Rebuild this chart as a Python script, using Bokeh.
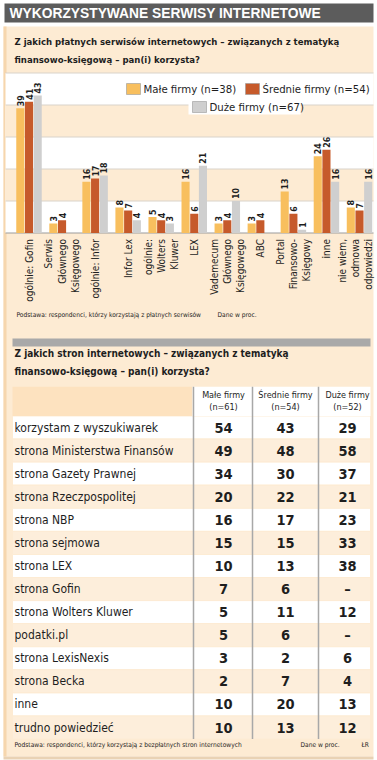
import math
from bokeh.plotting import figure
from bokeh.models import Range1d, ColumnDataSource
from bokeh.embed import file_html
from bokeh.resources import INLINE
from bokeh.core.properties import value

# ---------------- data ----------------
bar_categories = ["ogólnie: Gofin", "Serwis\nGłównego\nKsięgowego", "ogólnie: Infor", "Infor Lex",
                  "ogólnie:\nWolters\nKluwer", "LEX", "Vademecum\nGłównego\nKsięgowego", "ABC",
                  "Portal\nFinansowo-\nKsięgowy", "inne", "nie wiem,\nodmowa\nodpowiedzi"]
male_firmy = [39, 3, 16, 8, 5, 16, 3, 3, 13, 24, 8]
srednie_firmy = [41, 4, 17, 7, 4, 6, 4, 4, 6, 26, 7]
duze_firmy = [43, None, 18, 4, 3, 21, 10, None, 1, 16, 16]
bar_series = ["Małe firmy (n=38)", "Średnie firmy (n=54)", "Duże firmy (n=67)"]
bar_gridlines = [10, 20, 30, 40, 50]
bar_bands = [(10, 20), (30, 40)]

table_rows = ["korzystam z wyszukiwarek", "strona Ministerstwa Finansów", "strona Gazety Prawnej",
              "strona Rzeczpospolitej", "strona NBP", "strona sejmowa", "strona LEX", "strona Gofin",
              "strona Wolters Kluwer", "podatki.pl", "strona LexisNexis", "strona Becka", "inne",
              "trudno powiedzieć"]
table_columns = ["Małe firmy\n(n=61)", "Średnie firmy\n(n=54)", "Duże firmy\n(n=52)"]
table_male = [54, 49, 34, 20, 16, 15, 10, 7, 5, 5, 3, 2, 10, 10]
table_srednie = [43, 48, 30, 22, 17, 15, 13, 6, 11, 6, 2, 7, 20, 13]
table_duze = [29, 58, 37, 21, 23, 33, 38, None, 12, None, 6, 4, 13, 12]

title = "WYKORZYSTYWANE SERWISY INTERNETOWE"
question1 = "Z jakich płatnych serwisów internetowych – związanych z tematyką\nfinansowo-księgową – pan(i) korzysta?"
question2 = "Z jakich stron internetowych – związanych z tematyką\nfinansowo-księgową –  pan(i) korzysta?"
note1 = "Podstawa: respondenci, którzy korzystają z płatnych serwisów"
note2 = "Podstawa: respondenci, którzy korzystają z bezpłatnych stron internetowych"
unit_note = "Dane w proc."
author = "ŁR"

# ---------------- styles ----------------
W, H = 377, 760
COND = value("DejaVu Sans Condensed")
WIDE = value("Liberation Sans")
C_YEL, C_ORA, C_GRY = "#f8bf5e", "#c65a2b", "#cfcfcf"
SERIES_COLORS = [C_YEL, C_ORA, C_GRY]
PANEL = "#fdebd3"
TXT = "#1e1e1e"

p = figure(width=W, height=H, x_range=Range1d(0, W), y_range=Range1d(H, 0),
           x_axis_location=None, y_axis_location=None, output_backend="svg",
           toolbar_location=None, min_border=0)
p.grid.visible = False
p.outline_line_color = None
p.background_fill_color = "#ffffff"
p.border_fill_color = "#ffffff"

# scales for bar chart (group index, percent) and table (column, row)
BX0, BDX = 28.5, 33.05
BY0, BDY = 232.5, 3.2
TX0, TDX = 223.0, 62.0
TY0, TDY = 427.0, 23.08
p.extra_x_ranges["bx"] = Range1d(-BX0 / BDX, (W - BX0) / BDX)
p.extra_y_ranges["by"] = Range1d((BY0 - H) / BDY, BY0 / BDY)
p.extra_x_ranges["tx"] = Range1d(1 - TX0 / TDX, 1 + (W - TX0) / TDX)
p.extra_y_ranges["ty"] = Range1d((H - TY0) / TDY, -TY0 / TDY)

# ---------------- page decoration ----------------
p.quad(left=3, right=373, top=26, bottom=756, fill_color=PANEL, line_color=None)
p.quad(left=3, right=6, top=26, bottom=756, fill_color="#f6d6ad", line_color=None)
p.quad(left=3, right=373, top=756, bottom=759, fill_color="#e9d2b4", line_color=None)
p.quad(left=4, right=373, top=3, bottom=22, fill_color="#5c5c5c", line_color=None)
p.text(x=[9], y=[13], text=[title], text_font=WIDE, text_font_style="bold",
       text_font_size="13.8px", text_color="#ffffff", text_baseline="middle")

p.text(x=[14], y=[50], text=[question1], text_font=COND, text_font_style="bold",
       text_font_size="9.5px", text_color=TXT, text_baseline="middle", text_line_height=1.55)

# ---------------- bar chart ----------------
BR = dict(x_range_name="bx", y_range_name="by")
p.quad(left=5, right=373, bottom=0, top=max(bar_gridlines), fill_color="#ffffff", line_color=None,
       y_range_name="by")
for lo, hi in bar_bands:
    p.quad(left=5, right=373, bottom=lo, top=hi, fill_color=PANEL, line_color=None, y_range_name="by")
p.segment(x0=[5] * len(bar_gridlines), x1=[373] * len(bar_gridlines), y0=bar_gridlines,
          y1=bar_gridlines, line_color="#d9d3ca", line_width=1, y_range_name="by")
p.segment(x0=[5], x1=[373], y0=[0], y1=[0], line_color="#9c9c9c", line_width=1.2, y_range_name="by")

OFF, BW = 0.263, 0.245
for k, (vals, col) in enumerate(zip([male_firmy, srednie_firmy, duze_firmy], SERIES_COLORS)):
    xs = [i + (k - 1) * OFF for i, v in enumerate(vals) if v is not None]
    ys = [v for v in vals if v is not None]
    src = ColumnDataSource(dict(x=xs, top=ys, lab=[str(v) for v in ys]))
    p.vbar(x="x", top="top", bottom=0, width=BW, source=src, fill_color=col, line_color=None, **BR)
    p.text(x="x", y="top", text="lab", source=src, angle=math.pi / 2, text_align="left",
           text_baseline="middle", y_offset=-2, text_font=COND, text_font_style="bold",
           text_font_size="8.8px", text_color=TXT, **BR)

ncat = len(bar_categories)
cat_shift = [0] * (ncat - 1) + [-4]   # keep the last label inside the panel
p.text(x=list(range(ncat)), y=[0] * ncat, text=bar_categories, x_offset=cat_shift,
       angle=math.pi / 2, text_align="right", text_baseline="middle", y_offset=6,
       text_font=COND, text_font_size="10px", text_color=TXT, text_line_height=1.2, **BR)

# legend (manual, two rows)
leg_pos = [(126, 88.5), (245, 88.5), (192, 106.5)]
p.quad(left=188, right=300, top=99, bottom=114, fill_color="#ffffff", line_color=None)
for (lx, ly), name, col in zip(leg_pos, bar_series, SERIES_COLORS):
    p.quad(left=lx, right=lx + 14, top=ly - 5.5, bottom=ly + 5.5, fill_color=col,
           line_color="#9a9a9a", line_width=0.6)
    p.text(x=[lx + 17], y=[ly], text=[name], text_font=COND, text_font_size="11.3px",
           text_color=TXT, text_baseline="middle")

p.text(x=[16], y=[314], text=[note1], text_font=COND, text_font_size="6.6px", text_color=TXT,
       text_baseline="middle")
p.text(x=[217], y=[314], text=[unit_note], text_font=COND, text_font_size="6.6px",
       text_color=TXT, text_baseline="middle")

# separator
p.quad(left=12, right=370, top=338, bottom=346, fill_color="#a9a9a9", line_color=None)
p.text(x=[14], y=[362], text=[question2], text_font=COND, text_font_style="bold",
       text_font_size="10px", text_color=TXT, text_baseline="middle", text_line_height=1.55)

# ---------------- table ----------------
TR = dict(y_range_name="ty")
nrows = len(table_rows)
rows_idx = list(range(nrows))
stripe = ["#ffffff" if r % 2 == 0 else "#fdeedb" for r in rows_idx]
p.quad(left=12, right=370, top=[r - 0.5 for r in rows_idx], bottom=[r + 0.5 for r in rows_idx],
       fill_color=stripe, line_color=PANEL, line_width=1, **TR)
# header
p.quad(left=12, right=192, top=-1.77, bottom=-0.5, fill_color="#fde2bf", line_color=None, **TR)
p.quad(left=192, right=370, top=-1.77, bottom=-0.5, fill_color="#ffffff", line_color=None, **TR)
sep_x = [193, 252, 318]
p.segment(x0=sep_x, x1=sep_x, y0=[-1.77] * 3, y1=[nrows - 0.5] * 3, line_color="#a8a8a8",
          line_width=1.5, **TR)

p.text(x=[14] * nrows, y=rows_idx, text=table_rows, text_font=COND, text_font_size="12px",
       text_color=TXT, text_baseline="middle", **TR)
TT = dict(x_range_name="tx", y_range_name="ty")
for c, vals in enumerate([table_male, table_srednie, table_duze], start=1):
    labs = ["–" if v is None else str(v) for v in vals]
    p.text(x=[c] * nrows, y=rows_idx, text=labs, text_font=COND, text_font_style="bold",
           text_font_size="14.5px", text_color=TXT, text_align="center", text_baseline="middle", **TT)
p.text(x=[1, 2, 3], y=[-1.13] * 3, text=table_columns, text_font=COND, text_font_size="9px",
       text_color=TXT, text_align="center", text_baseline="middle", text_line_height=1.2, **TT)

p.text(x=[14], y=[744], text=[note2], text_font=COND, text_font_size="6.6px", text_color=TXT,
       text_baseline="middle")
p.text(x=[300], y=[744], text=[unit_note], text_font=COND, text_font_size="6.6px",
       text_color=TXT, text_baseline="middle")
p.text(x=[361], y=[744], text=[author], text_font=COND, text_font_size="6.6px",
       text_color=TXT, text_baseline="middle")

open("out.html", "w").write(file_html(p, INLINE))
